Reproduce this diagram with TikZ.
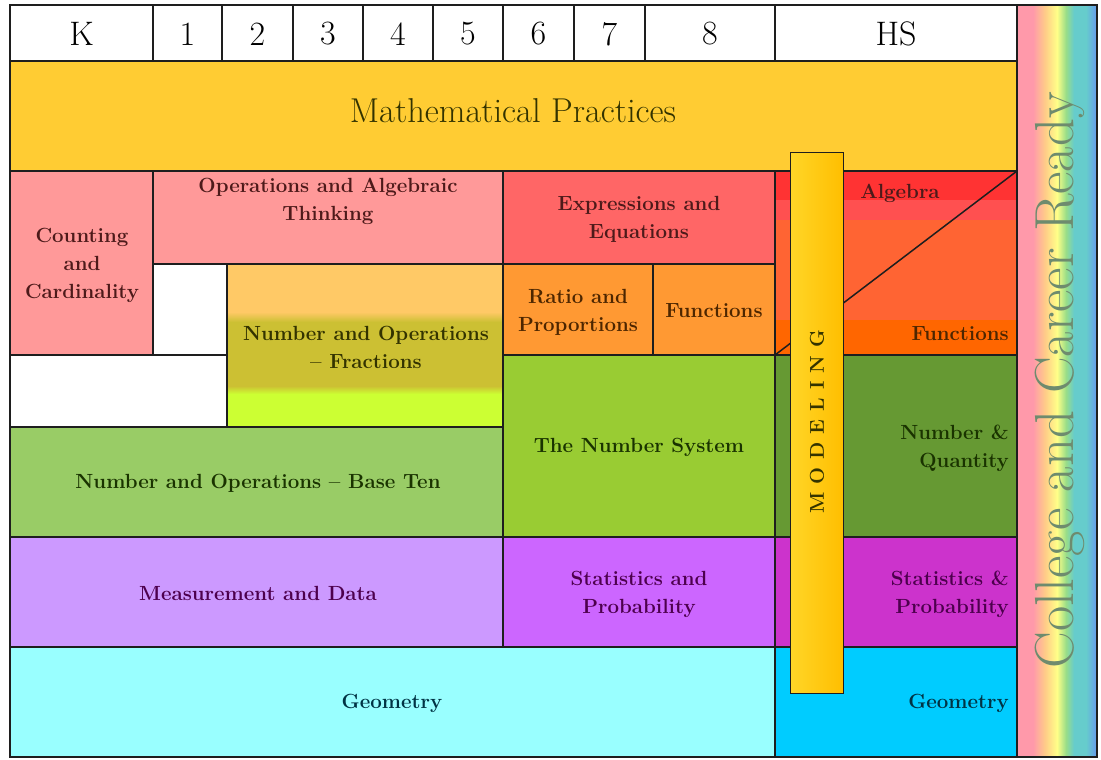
\documentclass[tikz,border=0pt]{standalone}
\usepackage{fontspec}
\definecolor{mpc}{HTML}{FFCC33}
\definecolor{pinkc}{HTML}{FF9999}
\definecolor{eec}{HTML}{FF6666}
\definecolor{orc}{HTML}{FF9933}
\definecolor{nbtc}{HTML}{99CC66}
\definecolor{nsc}{HTML}{99CC33}
\definecolor{mdc}{HTML}{CC99FF}
\definecolor{spc}{HTML}{CC66FF}
\definecolor{geoc}{HTML}{99FFFF}
\definecolor{nqc}{HTML}{669933}
\definecolor{hsspc}{HTML}{CC33CC}
\definecolor{hsgeoc}{HTML}{00CCFF}
\definecolor{linec}{HTML}{1E1E1E}
\definecolor{ccrc}{HTML}{6E8B6E}
\definecolor{tred}{HTML}{4D1A1A}
\definecolor{tbrown}{HTML}{4D2600}
\definecolor{tolive}{HTML}{333300}
\definecolor{tgreen}{HTML}{1A3300}
\definecolor{tpurp}{HTML}{4D004D}
\definecolor{tteal}{HTML}{003344}
\definecolor{nfa}{HTML}{FFC966}
\definecolor{nfb}{HTML}{CCC033}
\definecolor{nfc}{HTML}{CCFF33}
\definecolor{hsa}{HTML}{FF3333}
\definecolor{hsb}{HTML}{FF5050}
\definecolor{hsc}{HTML}{FF6433}
\definecolor{hsd}{HTML}{FF6600}
\definecolor{mdla}{HTML}{FFD628}
\definecolor{mdlb}{HTML}{FFBE00}
\definecolor{rba}{HTML}{FF99AA}
\definecolor{rbb}{HTML}{FFCC88}
\definecolor{rbc}{HTML}{FFFF88}
\definecolor{rbd}{HTML}{99DD88}
\definecolor{rbe}{HTML}{66CCCC}
\definecolor{rbf}{HTML}{6699EE}
\begin{document}
\begin{tikzpicture}[x=1pt,y=-1pt,
  lc/.style={draw=linec, line width=1.5pt},
  lbl/.style={font=\fontsize{20.5}{28}\selectfont\bfseries, align=center, inner sep=0pt},
  hdr/.style={font=\fontsize{34}{34}\selectfont, inner sep=0pt}]
\useasboundingbox (0,0) rectangle (1101,760);
\fill[white] (0,0) rectangle (1101,760);
% header
\foreach \a/\b/\t [count=\i] in {10/153/K,153/222/1,222/293/2,293/363/3,363/433/4,433/503/5,503/574/6,574/645/7,645/775/8,775/1017/HS}{
  \draw[lc, fill=white] (\a,5) rectangle (\b,61);
  \node[hdr] (h\i) at ({(\a+\b)/2},34) {\t};
}
% mathematical practices
\draw[lc, fill=mpc] (10,61) rectangle (1017,171);
% K-8 domains
\draw[lc, fill=pinkc] (10,171) rectangle (153,355);
\draw[lc, fill=pinkc] (153,171) rectangle (503,264);
\draw[lc, fill=eec] (503,171) rectangle (775,264);
\draw[lc, fill=orc] (503,264) rectangle (653,355);
\draw[lc, fill=orc] (653,264) rectangle (775,355);
\draw[lc, fill=white] (153,264) rectangle (227,355);
\draw[lc, fill=white] (10,355) rectangle (227,427);
% fractions gradient
\fill[nfa] (227,264) rectangle (503,312);
\shade[top color=nfa, bottom color=nfb] (227,312) rectangle (503,322);
\fill[nfb] (227,322) rectangle (503,386);
\shade[top color=nfb, bottom color=nfc] (227,386) rectangle (503,394);
\fill[nfc] (227,394) rectangle (503,427);
\draw[lc] (227,264) rectangle (503,427);
\draw[lc, fill=nbtc] (10,427) rectangle (503,537);
\draw[lc, fill=nsc] (503,355) rectangle (775,537);
\draw[lc, fill=mdc] (10,537) rectangle (503,647);
\draw[lc, fill=spc] (503,537) rectangle (775,647);
\draw[lc, fill=geoc] (10,647) rectangle (775,757);
% HS algebra / functions
\fill[hsa] (775,171) rectangle (1017,200);
\fill[hsb] (775,200) rectangle (1017,220);
\fill[hsc] (775,220) rectangle (1017,320);
\fill[hsd] (775,320) rectangle (1017,355);
\draw[lc] (775,171) rectangle (1017,355);
\coordinate (dgA) at (775,355);
\coordinate (dgB) at (1017,171);
\draw[linec, line width=1.5pt] (dgA) -- (dgB);
\draw[lc, fill=nqc] (775,355) rectangle (1017,537);
\draw[lc, fill=hsspc] (775,537) rectangle (1017,647);
\draw[lc, fill=hsgeoc] (775,647) rectangle (1017,757);
% modeling bar
\shade[left color=mdla, right color=mdlb, draw=linec, line width=1pt] (790,152) rectangle (843,693);
% rainbow bar
\fill[rba] (1017,5) rectangle (1033,757);
\shade[left color=rba, right color=rbb] (1033,5) rectangle (1045,757);
\shade[left color=rbb, right color=rbc] (1045,5) rectangle (1057,757);
\shade[left color=rbc, right color=rbd] (1057,5) rectangle (1066,757);
\shade[left color=rbd, right color=rbe] (1066,5) rectangle (1074,757);
\fill[rbe] (1074,5) rectangle (1086,757);
\shade[left color=rbe, right color=rbf] (1086,5) rectangle (1097,757);
\draw[lc] (1017,5) rectangle (1097,757);
% labels
\node[font=\fontsize{34.5}{34.5}\selectfont, text=tolive, inner sep=0pt] (mp) at (513,111) {Mathematical Practices};
\node[lbl, text=tred] (cc) at (82,265) {Counting\\and\\Cardinality};
\node[lbl, text=tred] (oa) at (328,201) {Operations and Algebraic\\Thinking};
\node[lbl, text=tred] (ee) at (639,219) {Expressions and\\Equations};
\node[lbl, text=tbrown] (rp) at (578,312) {Ratio and\\Proportions};
\node[lbl, text=tbrown] (fn) at (714,311) {Functions};
\node[lbl, text=tolive] (nf) at (366,347) {Number and Operations\\-- Fractions};
\node[lbl, text=tgreen] (nbt) at (258,483) {Number and Operations -- Base Ten};
\node[lbl, text=tgreen] (ns) at (639,447) {The Number System};
\node[lbl, text=tpurp] (md) at (258,593) {Measurement and Data};
\node[lbl, text=tpurp] (sp) at (639,594) {Statistics and\\Probability};
\node[lbl, text=tteal] (geo) at (392,703) {Geometry};
\node[lbl, text=tred] (alg) at (900,193) {Algebra};
\node[lbl, text=tbrown, anchor=east] (hsfn) at (1009,334) {Functions};
\node[lbl, text=tgreen, align=right, anchor=east] (nq) at (1009,448) {Number \&\\Quantity};
\node[lbl, text=tpurp, align=right, anchor=east] (hssp) at (1009,594) {Statistics \&\\Probability};
\node[lbl, text=tteal, anchor=east] (hsgeo) at (1009,703) {Geometry};
\node[font=\fontsize{20}{20}\selectfont\bfseries, text=tolive, rotate=90, inner sep=0pt] (mod) at (817,422) {M\kern8pt O\kern8pt D\kern8pt E\kern8pt L\kern8pt I\kern8pt N\kern8pt G};
\node[font=\fontsize{55}{55}\selectfont, text=ccrc, rotate=90, inner sep=0pt] (ccr) at (1060,380) {College and Career Ready};
\end{tikzpicture}
\end{document}
